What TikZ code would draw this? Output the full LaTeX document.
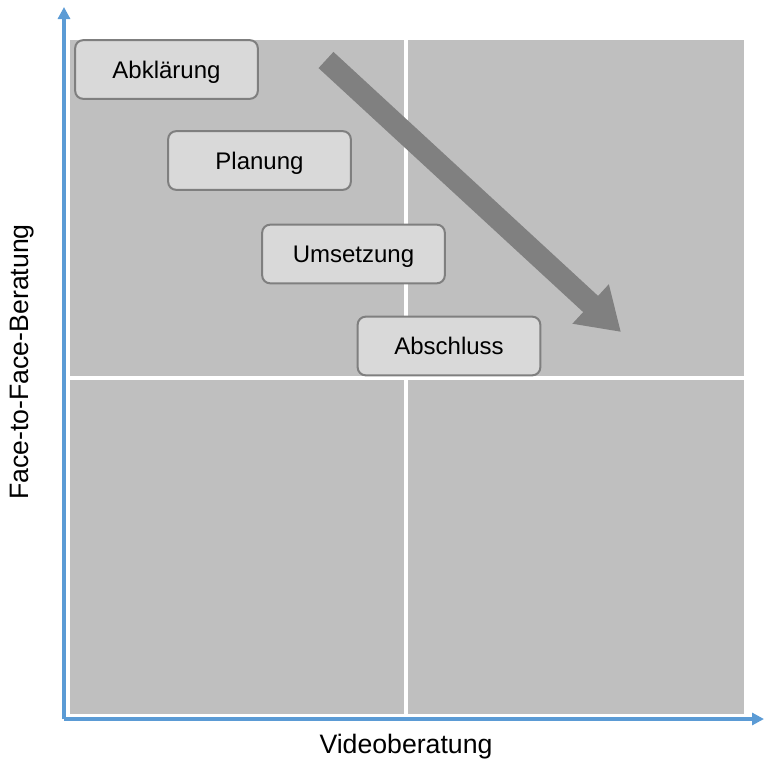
\documentclass[tikz,border=0pt]{standalone}
\usepackage{fontspec}
\setmainfont{Liberation Sans}
\usetikzlibrary{arrows.meta}
\definecolor{quad}{HTML}{BFBFBF}
\definecolor{boxfill}{HTML}{D9D9D9}
\definecolor{boxline}{HTML}{7F7F7F}
\definecolor{axisblue}{HTML}{5B9BD5}
\definecolor{bigarr}{HTML}{808080}
\begin{document}
\begin{tikzpicture}[x=0.75pt,y=-0.75pt,
  quadrant/.style={fill=quad,draw=none},
  phase/.style={draw=boxline,fill=boxfill,line width=1.5pt,rounded corners=6pt,
    minimum width=137pt,minimum height=44pt,inner sep=0pt,text depth=0pt,font=\fontsize{18}{21}\selectfont},
  axisline/.style={draw=axisblue,line width=2.3pt,-{Triangle[width=9pt,length=9pt]}},
  axislabel/.style={font=\fontsize{20}{24}\selectfont,inner sep=0pt},
  bigarrow/.style={draw=bigarr,line width=16.5pt,-{Triangle[width=38pt,length=31pt]}}]
\useasboundingbox (0,0) rectangle (764,760);
% quadrants
\fill[quadrant] (70,40) rectangle (404,376);
\fill[quadrant] (408,40) rectangle (744,376);
\fill[quadrant] (70,380) rectangle (404,714);
\fill[quadrant] (408,380) rectangle (744,714);
% axes
\coordinate (origin) at (64,719);
\coordinate (ytop) at (64,7);
\coordinate (xend) at (764,719);
\draw[axisline] (origin) -- (ytop);
\draw[axisline] (origin) -- (xend);
\node[axislabel] (xlab) at (406,747) {Videoberatung};
\node[axislabel,rotate=90] (ylab) at (22,362) {Face-to-Face-Beratung};
% big arrow
\coordinate (arrstart) at (326,60);
\coordinate (arrtip) at (621,332);
\draw[bigarrow] (arrstart) -- (arrtip);
% phases
\node[phase] (abkl) at (166.5,69.5) {Abklärung};
\node[phase] (plan) at (259.5,160.5) {Planung};
\node[phase] (ums) at (353.5,254) {Umsetzung};
\node[phase] (absch) at (449,346) {Abschluss};
\end{tikzpicture}
\end{document}
